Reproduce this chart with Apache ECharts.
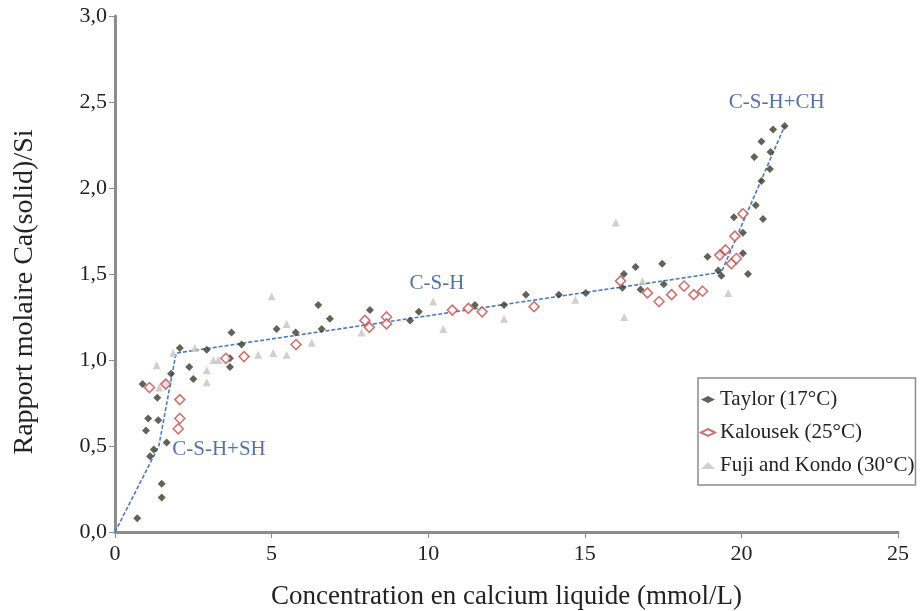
<!DOCTYPE html>
<html><head><meta charset="utf-8">
<script src="https://cdn.jsdelivr.net/npm/echarts@6/dist/echarts.min.js"></script>
<style>html,body{margin:0;padding:0;background:#fff}#c{width:921px;height:611px}</style>
</head><body><div id="c"></div>
<script>
const taylor = [
 [0.71,0.08],[0.88,0.86],[1.06,0.66],[0.99,0.59],[1.12,0.44],[1.24,0.48],[1.35,0.78],[1.38,0.65],
 [1.49,0.28],[1.49,0.20],[1.61,0.86],[1.65,0.52],[1.79,0.92],[2.07,1.07],[2.37,0.96],[2.50,0.89],
 [2.93,1.06],[3.72,1.16],[3.67,0.96],[3.67,1.01],[4.04,1.09],[5.16,1.18],[5.77,1.16],[6.49,1.32],[6.86,1.24],
 [6.60,1.18],[8.14,1.29],[9.42,1.23],[9.70,1.28],[11.49,1.32],[12.42,1.32],[13.12,1.38],[14.17,1.38],
 [15.03,1.39],[16.25,1.50],[16.20,1.42],[16.62,1.54],[16.78,1.41],[17.47,1.56],[17.52,1.44],
 [18.92,1.60],[19.26,1.52],[19.36,1.49],[19.36,1.62],[19.76,1.83],[20.05,1.74],[20.05,1.62],[20.21,1.50],
 [20.46,1.90],[20.69,1.82],[20.64,2.04],[20.91,2.11],[20.41,2.18],[20.93,2.21],[20.64,2.27],[21.01,2.34],[21.38,2.36]
];
const kalousek = [
 [1.10,0.84],[1.62,0.86],[2.07,0.77],[2.07,0.66],[2.02,0.60],[3.54,1.01],[4.12,1.02],[5.78,1.09],
 [7.98,1.23],[8.12,1.19],[8.67,1.25],[8.67,1.21],[10.77,1.29],[11.28,1.30],[11.72,1.28],[13.38,1.31],
 [16.14,1.46],[17.00,1.39],[17.37,1.34],[17.77,1.38],[18.17,1.43],[18.48,1.38],[18.76,1.40],
 [19.31,1.61],[19.49,1.64],[19.68,1.56],[19.84,1.59],[19.79,1.72],[20.05,1.85]
];
const fuji = [
 [1.33,0.97],[1.41,0.84],[1.86,1.04],[2.55,1.07],[2.93,0.94],[2.93,0.87],[3.14,1.00],[3.30,1.00],
 [4.57,1.03],[5.05,1.04],[5.48,1.03],[5.00,1.37],[5.48,1.21],[6.28,1.10],[7.87,1.16],[10.16,1.34],
 [10.48,1.18],[12.42,1.24],[14.70,1.35],[15.99,1.80],[16.84,1.46],[16.26,1.25],[19.58,1.39],[20.00,1.86]
];
const trend = [[0,0],[1.4,0.5],[1.95,1.04],[19.36,1.51],[21.38,2.36]];
const annotations = [
 {text:'C-S-H+SH', x:3.32, y:0.477},
 {text:'C-S-H', x:10.28, y:1.442},
 {text:'C-S-H+CH', x:21.13, y:2.50}
];
const seriesNames = ['Taylor (17°C)','Kalousek (25°C)','Fuji and Kondo (30°C)'];
const xTitle = 'Concentration en calcium liquide (mmol/L)';
const yTitle = 'Rapport molaire Ca(solid)/Si';

const font = '"Liberation Serif", "DejaVu Serif", serif';
const chart = echarts.init(document.getElementById('c'));
chart.setOption({
  animation:false,
  backgroundColor:'#fff',
  grid:{left:115,right:23,top:16,bottom:79,containLabel:false,outerBoundsMode:'none'},
  xAxis:{type:'value',min:0,max:25,interval:5,
    name:xTitle,nameLocation:'middle',nameGap:51,
    nameTextStyle:{fontFamily:font,fontSize:27,color:'#222'},
    axisLine:{show:true,lineStyle:{color:'#8c8c8c',width:3}},
    axisTick:{show:true,length:6,lineStyle:{color:'#8c8c8c',width:1}},
    axisLabel:{fontFamily:font,fontSize:22,color:'#222',margin:11},
    splitLine:{show:false}},
  yAxis:{type:'value',min:0,max:3,interval:0.5,
    axisLine:{show:true,lineStyle:{color:'#8c8c8c',width:3}},
    axisTick:{show:true,length:6,lineStyle:{color:'#8c8c8c',width:1}},
    axisLabel:{fontFamily:font,fontSize:22,color:'#222',margin:8,
      formatter:v=>v.toFixed(1).replace('.',',')},
    splitLine:{show:false}},
  graphic:[{type:'text',x:25,y:292,rotation:Math.PI/2,
    style:{text:yTitle,fontFamily:font,fontSize:28,fill:'#222',align:'center',verticalAlign:'middle'}}],
  legend:{orient:'vertical',left:698,top:378,
    backgroundColor:'#fff',borderColor:'#8c8c8c',borderWidth:1.5,
    padding:[11,1,9,2],itemGap:12,itemWidth:14,itemHeight:7,
    textStyle:{fontFamily:font,fontSize:21,color:'#222'},
    data:seriesNames},
  series:[
    {type:'line',data:trend,symbol:'none',silent:true,z:1,
     lineStyle:{color:'#4a7ac4',width:1.6,type:[4,2]}},
    {name:seriesNames[0],type:'scatter',data:taylor,symbol:'diamond',symbolSize:8,z:3,
     itemStyle:{color:'#3b3b2e'}},
    {name:seriesNames[1],type:'scatter',data:kalousek,symbol:'diamond',symbolSize:10,z:4,
     itemStyle:{color:'#fff',borderColor:'#c0504d',borderWidth:1.6}},
    {name:seriesNames[2],type:'scatter',data:fuji,symbol:'triangle',symbolSize:8,z:2,
     itemStyle:{color:'#c4c4c4'}},
    {type:'scatter',silent:true,symbolSize:0,z:5,
     data:annotations.map(a=>({value:[a.x,a.y],label:{formatter:a.text}})),
     label:{show:true,position:'inside',fontFamily:font,fontSize:21,color:'#2a4f8f'}}
  ]
});
</script></body></html>
